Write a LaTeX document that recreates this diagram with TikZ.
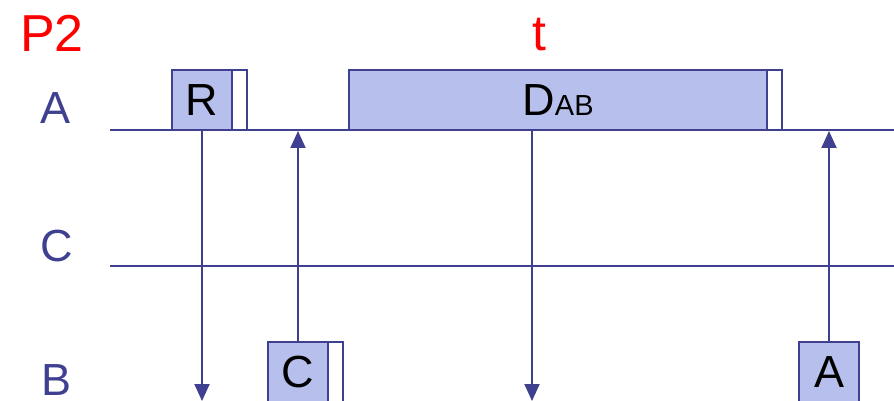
\documentclass[tikz,border=0pt]{standalone}
\usepackage{fontspec}
\setmainfont{Liberation Sans}
\usetikzlibrary{arrows.meta,positioning}
\definecolor{lineblue}{RGB}{64,64,145}
\definecolor{slotfill}{RGB}{183,192,236}
\begin{document}
\begin{tikzpicture}[x=1pt,y=-1pt,>={Triangle[width=15pt,length=17pt]},
   slot/.style={draw=lineblue,line width=2pt,fill=slotfill,minimum width=60pt,minimum height=60pt,inner sep=0pt,outer sep=0pt,font=\fontsize{45}{45}\selectfont},
   tail/.style={draw=lineblue,line width=2pt,fill=white,minimum width=15pt,minimum height=60pt,inner sep=0pt,outer sep=0pt},
   lab/.style={text=lineblue,font=\fontsize{45}{45}\selectfont,anchor=base,inner sep=0pt},
   tline/.style={draw=lineblue,line width=2.8pt},
   msg/.style={->,draw=lineblue,fill=lineblue,line width=2pt}]
   \useasboundingbox (0,0) rectangle (894,401);

   % 見出し
   \node [text=red,font=\fontsize{52}{52}\selectfont,anchor=base,inner sep=0pt] (p2) at (52,52) {P2};
   \node [text=red,font=\fontsize{50}{50}\selectfont,anchor=base,inner sep=0pt] (t) at (539,51) {t};
   \node [lab] (labA) at (56,124) {A};
   \node [lab] (labC) at (57,261) {C};
   \node [lab] (labB) at (57,395) {B};

   % 時間軸
   \coordinate (aL) at (110,130);
   \coordinate (aR) at (894,130);
   \coordinate (cL) at (110,266);
   \coordinate (cR) at (894,266);
   \coordinate (bEnd) at (0,401);
   \draw [tline] (aL)--(aR);
   \draw [tline] (cL)--(cR);

   % フレーム
   \node [slot,anchor=south west] (R) at (172,130) {R};
   \node [tail,right=0pt of R] (Rt) {};
   \node [slot,anchor=south west,minimum width=418pt] (D) at (349,130) {D{\fontsize{29}{29}\selectfont AB}};
   \node [tail,right=0pt of D] (Dt) {};
   \node [slot,anchor=north west] (Cf) at (268,342) {C};
   \node [tail,right=0pt of Cf] (Ct) {};
   \node [slot,anchor=north west] (Af) at (799,342) {A};

   % 矢印
   \coordinate (dOut) at (532,130);
   \draw [msg] (R.south)--(R.south |- bEnd);
   \draw [msg] (dOut)--(dOut |- bEnd);
   \draw [msg,shorten >=1pt] (Cf.north)--(Cf.north |- aL);
   \draw [msg,shorten >=1pt] (Af.north)--(Af.north |- aL);

\end{tikzpicture}
\end{document}
